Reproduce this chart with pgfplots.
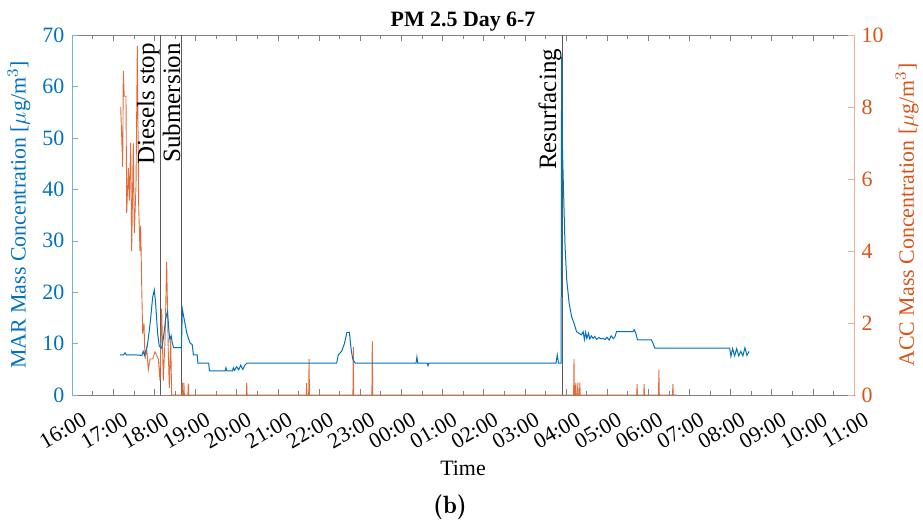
\documentclass[11pt,border=0pt]{standalone}
\usepackage{pgfplots}
\pgfplotsset{compat=1.18}
\usepackage{fontspec}
\setmainfont{Liberation Serif}
\definecolor{mblue}{rgb}{0,0.447,0.741}
\definecolor{morange}{rgb}{0.85,0.325,0.098}
\pgfplotsset{
  common/.style={
    scale only axis, width=391pt, height=180pt,
    xmin=16, xmax=35,
    major tick length=3pt, minor tick length=1.8pt,
    tick align=inside,
    /pgf/number format/assume math mode=true,
  }
}
\begin{document}
\begin{tikzpicture}
\path[use as bounding box] (-36pt,-63pt) rectangle (425.5pt,197.5pt);
% ---------- x axis / frame ----------
\begin{axis}[common, clip=false,
  ymin=0, ymax=70, ytick=\empty,
  xtick={16,...,35}, minor x tick num=1,
  xticklabels={16:00,17:00,18:00,19:00,20:00,21:00,22:00,23:00,00:00,01:00,02:00,03:00,04:00,05:00,06:00,07:00,08:00,09:00,10:00,11:00},
  axis line style={black!50},
  tick style={black!50},
  xticklabel style={xshift=4.5pt, yshift=-8pt, rotate=30, anchor=north east, inner sep=0pt, text=black},
  title={PM 2.5 Day 6-7},
  every axis title/.style={at={(axis description cs:0.5,1)}, anchor=base, yshift=4.2pt, font=\bfseries},
  xlabel={Time},
  every axis x label/.style={at={(axis description cs:0.5,0)}, anchor=center, yshift=-36.5pt},
]
\node[font=\fontsize{12.5}{15}\fontfamily{lmr}\selectfont\bfseries] at (axis description cs:0.4834,-0.311) {(b)};
\end{axis}
% ---------- right axis (ACC) ----------
\begin{axis}[common,
  ymin=0, ymax=10, ytick={0,2,...,10},
  hide x axis, axis y line*=right,
  y axis line style={morange!45},
  tick style={morange!45},
  yticklabel style={text=morange},
  ylabel={ACC Mass Concentration [$\mu$g/m$^3$]},
  every axis y label/.style={at={(axis description cs:1.0678,0.5)}, rotate=90, anchor=center, text=morange},
]
\draw[black!65, line width=0.5pt] (axis cs:18.155,0) -- (axis cs:18.155,10);
\draw[black!65, line width=0.5pt] (axis cs:18.656,0) -- (axis cs:18.656,10);
\draw[black!65, line width=0.5pt] (axis cs:27.915,0) -- (axis cs:27.915,10);
\addplot[morange!85, line width=0.45pt] coordinates {
(17.183,8.0)(17.232,6.34)(17.246,9.0)(17.27,8.3)(17.312,8.3)(17.329,5.05)(17.368,6.3)(17.392,5.4)(17.426,7.0)(17.45,4.0)(17.489,7.0)(17.514,4.5)(17.555,5.8)(17.587,9.7)(17.621,5.2)(17.652,4.0)(17.669,4.7)(17.694,3.0)(17.718,1.7)(17.749,2.0)(17.774,1.0)(17.815,1.3)(17.854,0.7)(17.895,1.0)(17.961,1.0)(18.017,1.2)(18.097,1.0)(18.138,0.4)(18.179,2.4)(18.218,0.4)(18.26,1.5)(18.30,3.7)(18.34,1.2)(18.364,0.2)(18.398,1.5)(18.422,0)
(18.67,0)(18.68,0.34)(18.69,0)(18.71,0)(18.72,0.34)(18.73,0)(18.815,0)(18.825,0.32)(18.835,0)
(20.235,0)(20.245,0.34)(20.255,0)
(21.69,0)(21.70,0.33)(21.71,0)(21.75,0)(21.76,1.0)(21.77,0)
(22.825,0)(22.835,1.34)(22.845,0)
(23.286,0)(23.296,1.5)(23.306,0)
(28.187,0)(28.197,1.0)(28.207,0)(28.23,0)(28.24,0.34)(28.25,0)(28.28,0)(28.29,0.34)(28.30,0)(28.33,0)(28.34,0.34)(28.35,0)
(29.72,0)(29.73,0.3)(29.74,0)(29.89,0)(29.9,0.3)(29.91,0)
(30.25,0)(30.26,0.7)(30.27,0)
(30.59,0)(30.6,0.3)(30.61,0)(30.7,0)
};
\end{axis}
% ---------- left axis (MAR) ----------
\begin{axis}[common,
  ymin=0, ymax=70, ytick={0,10,...,70},
  hide x axis, axis y line*=left,
  y axis line style={mblue!55},
  tick style={mblue!55},
  yticklabel style={text=mblue},
  ylabel={MAR Mass Concentration [$\mu$g/m$^3$]},
  every axis y label/.style={at={(axis description cs:-0.0678,0.5)}, rotate=90, anchor=center, text=mblue},
]
\addplot[mblue, line width=0.5pt] coordinates {
(17.17,7.8)(17.25,7.8)(17.29,8.2)(17.32,7.8)(17.55,7.8)(17.70,7.7)(17.73,8.5)(17.76,7.8)(17.83,9.5)(17.90,14)(17.96,19)(18.00,20.4)(18.03,18)(18.08,12)(18.12,9.5)(18.18,9.1)(18.22,11)(18.28,15)(18.32,16.2)(18.36,12)(18.38,10.7)(18.41,11.5)(18.44,10)(18.47,9.2)(18.66,9.2)(18.68,16.7)(18.72,15)(18.79,12)(18.83,11)(18.87,10.1)(18.92,9.8)(18.95,7.8)(19.04,7.8)(19.06,6.2)(19.32,6.2)(19.34,4.7)(19.72,4.7)(19.74,5.3)(19.76,4.7)(19.90,4.7)(19.92,5.3)(19.95,4.8)(20.00,5.5)(20.05,4.9)(20.10,5.8)(20.15,5.0)(20.20,5.8)(20.25,6.2)
(22.43,6.2)(22.47,7.8)(22.55,8.5)(22.62,10)(22.68,12.2)(22.74,12.2)(22.78,9)(22.82,7)(22.88,6.2)
(24.36,6.2)(24.38,7.4)(24.40,6.2)(24.63,6.2)(24.65,5.7)(24.67,6.2)
(27.76,6.2)(27.79,7.8)(27.82,6.2)(27.885,6.2)(27.895,65.8)(27.91,50)(27.94,40.5)(27.98,28.8)(28.02,22.4)(28.08,17.8)(28.14,15.2)(28.20,13.9)(28.26,12.3)(28.38,11.7)
(28.42,12.3)(28.45,10.8)(28.48,12.2)(28.51,11.0)(28.55,12.0)(28.58,10.9)(28.62,11.5)(28.66,11.0)(28.70,11.4)(28.75,10.8)(28.80,11.2)(28.85,10.9)(28.90,11.0)(28.95,10.8)(29.00,11.2)(29.05,10.7)(29.10,11.5)(29.15,11.0)(29.19,11.3)(29.23,12.3)(29.63,12.3)(29.66,12.7)(29.70,12.0)(29.74,10.7)(30.08,10.7)(30.12,10.0)(30.16,9.1)
(31.98,9.1)(32.01,7.5)(32.05,9.0)(32.10,7.6)(32.15,9.0)(32.20,7.6)(32.25,8.5)(32.30,7.6)(32.35,9.2)(32.40,7.7)(32.45,8.5)
};
\node[rotate=90, anchor=south east, inner sep=0.3pt, font=\fontsize{12.5}{15}\selectfont] at ([yshift=-3.5pt]axis cs:18.155,70) {Diesels stop};
\node[rotate=90, anchor=south east, inner sep=0.3pt, font=\fontsize{12.5}{15}\selectfont] at ([yshift=-3.5pt]axis cs:18.656,70) {Submersion};
\node[rotate=90, anchor=south east, inner sep=0.3pt, font=\fontsize{12.5}{15}\selectfont] at ([yshift=-6.5pt]axis cs:27.915,70) {Resurfacing};
\end{axis}
\end{tikzpicture}
\end{document}
